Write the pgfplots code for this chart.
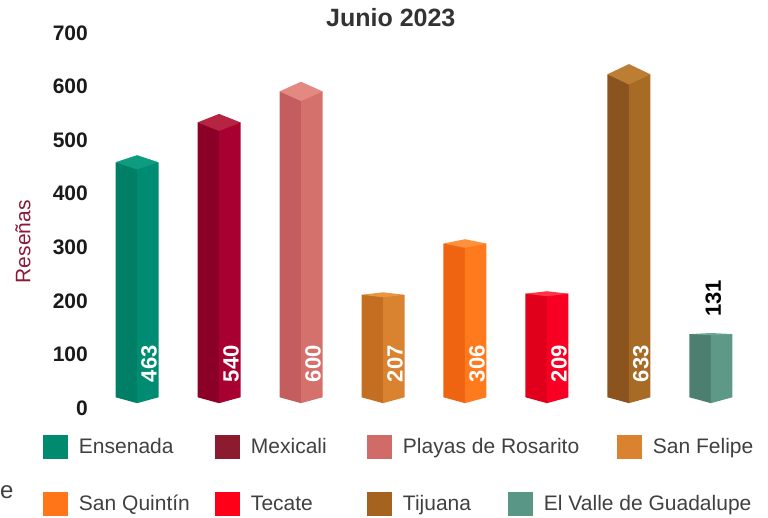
\documentclass[border=0pt]{standalone}
\usepackage{pgfplots}
\pgfplotsset{compat=1.18}
\usepackage{pgfplotstable}
\usepackage{fontspec}
\setmainfont{Liberation Sans}

% face colours: L = left face, R = right face, T = top face, G = legend
\definecolor{ensL}{HTML}{007F66}\definecolor{ensR}{HTML}{008C72}\definecolor{ensT}{HTML}{0E9C80}\definecolor{ensG}{HTML}{008A6E}
\definecolor{mexL}{HTML}{8A0027}\definecolor{mexR}{HTML}{A80031}\definecolor{mexT}{HTML}{B52441}\definecolor{mexG}{HTML}{8C1B2F}
\definecolor{plaL}{HTML}{C45E5E}\definecolor{plaR}{HTML}{D4716C}\definecolor{plaT}{HTML}{E48882}\definecolor{plaG}{HTML}{D06B67}
\definecolor{sfeL}{HTML}{C46E22}\definecolor{sfeR}{HTML}{D9822F}\definecolor{sfeT}{HTML}{E89642}\definecolor{sfeG}{HTML}{DA8230}
\definecolor{sqtL}{HTML}{EE6410}\definecolor{sqtR}{HTML}{FF7A1C}\definecolor{sqtT}{HTML}{FF903C}\definecolor{sqtG}{HTML}{FF7518}
\definecolor{tecL}{HTML}{E0001C}\definecolor{tecR}{HTML}{F70024}\definecolor{tecT}{HTML}{FF3444}\definecolor{tecG}{HTML}{FF0019}
\definecolor{tijL}{HTML}{8B541E}\definecolor{tijR}{HTML}{A86B26}\definecolor{tijT}{HTML}{BC7E32}\definecolor{tijG}{HTML}{A5631F}
\definecolor{valL}{HTML}{4D7F70}\definecolor{valR}{HTML}{5E9887}\definecolor{valT}{HTML}{6DA796}\definecolor{valG}{HTML}{5A9685}
\definecolor{tickc}{HTML}{1A1A1A}
\definecolor{titc}{HTML}{333333}
\definecolor{legc}{HTML}{404040}
\definecolor{ylabc}{HTML}{8B1A3A}

% prism shapes (dx in category units; b=1 -> top corner level)
\pgfplotstableread{
dx b y0
-0.2622 0 20
0 0 9
0 1 0
-0.2622 1 0
}\leftshape
\pgfplotstableread{
dx b y0
0 0 9
0.2622 0 20
0.2622 1 0
0 1 0
}\rightshape
\pgfplotstableread{
dx a
-0.2622 1
0 0
0.2622 1
0 2
}\topshape

% #1 position, #2 value, #3 left, #4 right, #5 top colour
\newcommand\prism[5]{%
  \addplot[fill=#3, draw=none, forget plot] table[x expr={#1+\thisrow{dx}},
     y expr={\thisrow{b}*(#2+9-0.034*(#2-70))+(1-\thisrow{b})*\thisrow{y0}}] {\leftshape} -- cycle;
  \addplot[fill=#4, draw=none, forget plot] table[x expr={#1+\thisrow{dx}},
     y expr={\thisrow{b}*(#2+9-0.034*(#2-70))+(1-\thisrow{b})*\thisrow{y0}}] {\rightshape} -- cycle;
  \addplot[fill=#5, draw=none, forget plot] table[x expr={#1+\thisrow{dx}},
     y expr={#2+9-\thisrow{a}*0.034*(#2-70)}] {\topshape} -- cycle;
}

\begin{document}
\begin{tikzpicture}
\begin{axis}[
  at={(0,0)}, anchor=south west, scale only axis,
  width=664pt, height=375pt,
  xmin=-0.55, xmax=7.55, ymin=0, ymax=700,
  clip=false,
  axis line style={draw=none}, tick style={draw=none},
  major tick length=0pt,
  xtick=\empty,
  ytick={0,100,...,700},
  /pgf/number format/assume math mode=true,
  yticklabel style={font=\bfseries\fontsize{21}{21}\selectfont, text=tickc, anchor=east, inner sep=0pt, xshift=-4pt},
  ylabel={Reseñas},
  ylabel style={font=\fontsize{21}{21}\selectfont, text=ylabc, at={(axis description cs:0,0.443)}, anchor=center, yshift=69pt},
  title={Junio 2023},
  title style={font=\bfseries\fontsize{25}{25}\selectfont, text=titc, at={(axis description cs:0.45,1)}, anchor=base, yshift=0pt},
  legend columns=4,
  legend image code/.code={\fill[#1] (0pt,-12pt) rectangle (25pt,12pt);},
  legend style={at={(axis description cs:-0.0738,-0.104)}, anchor=west, draw=none, fill=none,
     inner sep=0pt, outer sep=0pt, column sep=0pt,
     font=\fontsize{21}{24}\selectfont, text=legc, nodes={inner sep=0pt}},
]
\prism{0}{463}{ensL}{ensR}{ensT}
\prism{1}{540}{mexL}{mexR}{mexT}
\prism{2}{600}{plaL}{plaR}{plaT}
\prism{3}{207}{sfeL}{sfeR}{sfeT}
\prism{4}{306}{sqtL}{sqtR}{sqtT}
\prism{5}{209}{tecL}{tecR}{tecT}
\prism{6}{633}{tijL}{tijR}{tijT}
\prism{7}{131}{valL}{valR}{valT}

% value labels inside the bars
\addplot[only marks, mark=*, mark size=0pt, mark options={draw opacity=0, fill opacity=0}, forget plot,
  nodes near coords, point meta=explicit symbolic,
  every node near coord/.style={rotate=90, anchor=west, text=white, text opacity=1, fill opacity=1, draw opacity=1, inner sep=0pt,
     font=\bfseries\fontsize{22}{22}\selectfont}]
  coordinates {(0.146,48)[463] (1.146,48)[540] (2.146,48)[600] (3.146,48)[207]
               (4.146,48)[306] (5.146,48)[209] (6.146,48)[633]};
% value label above the short bar
\addplot[only marks, mark=*, mark size=0pt, mark options={draw opacity=0, fill opacity=0}, forget plot,
  nodes near coords, point meta=explicit symbolic,
  every node near coord/.style={rotate=90, anchor=west, text=black, text opacity=1, fill opacity=1, draw opacity=1, inner sep=0pt,
     font=\bfseries\fontsize{22}{22}\selectfont}]
  coordinates {(7.03,170)[131]};

\addlegendimage{fill=ensG, draw=none}\addlegendentry{\hspace{11pt}\makebox[136pt][l]{Ensenada}}
\addlegendimage{fill=mexG, draw=none}\addlegendentry{\hspace{11pt}\makebox[116pt][l]{Mexicali}}
\addlegendimage{fill=plaG, draw=none}\addlegendentry{\hspace{11pt}\makebox[214pt][l]{Playas de Rosarito}}
\addlegendimage{fill=sfeG, draw=none}\addlegendentry{\hspace{11pt}San Felipe}
\end{axis}

\begin{axis}[
  at={(0,0)}, anchor=south west, scale only axis,
  width=664pt, height=375pt, hide axis,
  xmin=0, xmax=1, ymin=0, ymax=1,
  legend columns=4,
  legend image code/.code={\fill[#1] (0pt,-12pt) rectangle (25pt,12pt);},
  legend style={at={(axis description cs:-0.0738,-0.256)}, anchor=west, draw=none, fill=none,
     inner sep=0pt, outer sep=0pt, column sep=0pt,
     font=\fontsize{21}{24}\selectfont, text=legc, nodes={inner sep=0pt}},
]
\addlegendimage{fill=sqtG, draw=none}\addlegendentry{\hspace{11pt}\makebox[136pt][l]{San Quintín}}
\addlegendimage{fill=tecG, draw=none}\addlegendentry{\hspace{11pt}\makebox[116pt][l]{Tecate}}
\addlegendimage{fill=tijG, draw=none}\addlegendentry{\hspace{11pt}\makebox[105pt][l]{Tijuana}}
\addlegendimage{fill=valG, draw=none}\addlegendentry{\hspace{11pt}El Valle de Guadalupe}
\end{axis}

\node[anchor=base west, inner sep=0pt, text=legc, font=\fontsize{24}{24}\selectfont] at (-92pt,-91pt) {e};

\pgfresetboundingbox
\path (-92pt,-110pt) rectangle (676pt,408pt);
\end{tikzpicture}
\end{document}
